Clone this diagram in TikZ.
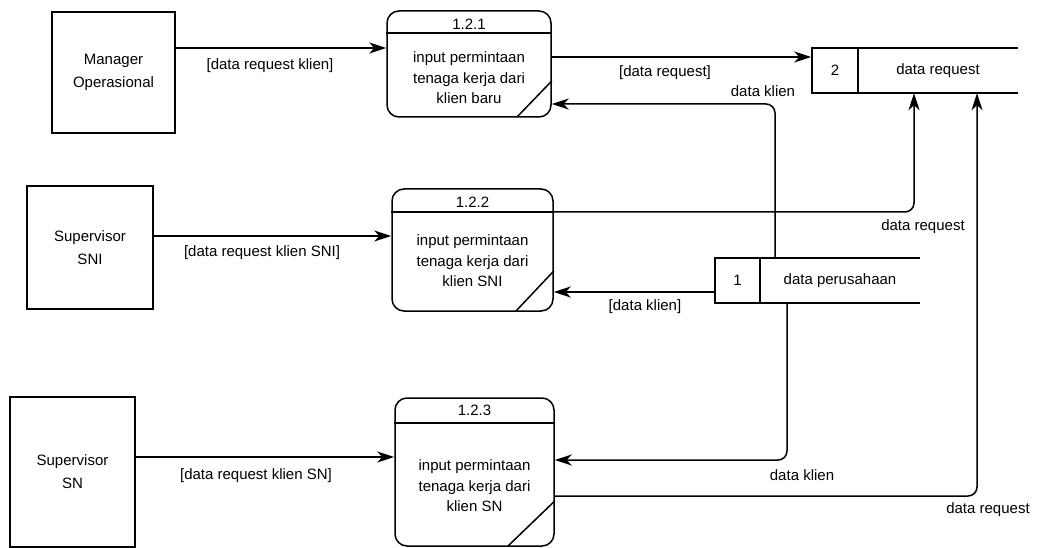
\documentclass[tikz,border=0pt]{standalone}
\usepackage{fontspec}
\setmainfont{Liberation Sans}
\usetikzlibrary{arrows.meta}
\begin{document}
\begin{tikzpicture}[x=1pt,y=-1pt,
  every node/.style={font=\fontsize{15}{20}\selectfont, inner sep=0pt},
  ent/.style={draw, line width=1.5pt, align=center, font=\fontsize{15}{23}\selectfont},
  proc/.style={draw, rounded corners=12pt, line width=1.5pt},
  ptext/.style={align=center, font=\fontsize{15}{20.5}\selectfont},
  ln/.style={line width=1.5pt},
  flow/.style={line width=1.5pt, rounded corners=9pt, -{Stealth[length=17pt,width=11pt,inset=5pt]}},
  lbl/.style={font=\fontsize{15}{18}\selectfont}
]
\useasboundingbox (0,0) rectangle (1041,548);

% external entities
\node[ent, minimum width=123pt, minimum height=121pt] (man) at (113.5,72.5) {Manager\\Operasional};
\node[ent, minimum width=126pt, minimum height=123pt] (sni) at (90,247.5) {Supervisor\\SNI};
\node[ent, minimum width=125pt, minimum height=150pt] (sn) at (72.5,472) {Supervisor\\SN};

% processes
\node[proc, minimum width=164pt, minimum height=106pt] (p1) at (469,64) {};
\node (p1id) at (469,24) {1.2.1};
\draw[ln] (p1.west |- 0,33) -- (p1.east |- 0,33);
\node[ptext] (p1t) at (469,78) {input permintaan\\tenaga kerja dari\\klien baru};
\draw[ln] (517,117) -- (p1.east |- 0,81);

\node[proc, minimum width=161pt, minimum height=122pt] (p2) at (472.5,250) {};
\node (p2id) at (472.5,202) {1.2.2};
\draw[ln] (p2.west |- 0,212) -- (p2.east |- 0,212);
\node[ptext] (p2t) at (472.5,261) {input permintaan\\tenaga kerja dari\\klien SNI};
\draw[ln] (516,311) -- (p2.east |- 0,271);

\node[proc, minimum width=159pt, minimum height=148pt] (p3) at (474.5,472) {};
\node (p3id) at (474.5,410) {1.2.3};
\draw[ln] (p3.west |- 0,423) -- (p3.east |- 0,423);
\node[ptext] (p3t) at (474.5,486) {input permintaan\\tenaga kerja dari\\klien SN};
\draw[ln] (508,546) -- (p3.east |- 0,501);

% data stores
\node[draw, line width=1.5pt, minimum width=46pt, minimum height=45pt] (s2n) at (835,70.5) {2};
\node[minimum width=160pt, minimum height=45pt] (s2) at (938,70.5) {data request};
\draw[ln] (s2.north west) -- (s2.north east);
\draw[ln] (s2.south west) -- (s2.south east);

\node[draw, line width=1.5pt, minimum width=45pt, minimum height=45pt] (s1n) at (737.5,280.5) {1};
\node[minimum width=160pt, minimum height=45pt] (s1) at (840,280.5) {data perusahaan};
\draw[ln] (s1.north west) -- (s1.north east);
\draw[ln] (s1.south west) -- (s1.south east);

% flows
\draw[flow] (man.east |- 0,48) -- (p1.west |- 0,48);
\node[lbl] (f1) at (270,66) {[data request klien]};

\draw[flow] (sni.east |- 0,236) -- (p2.west |- 0,236);
\node[lbl] (f2) at (262,253) {[data request klien SNI]};

\draw[flow] (sn.east |- 0,457) -- (p3.west |- 0,457);
\node[lbl] (f3) at (256,476) {[data request klien SN]};

\draw[flow] (p1.east |- 0,57) -- (s2n.west |- 0,57);
\node[lbl] (f4) at (665,73) {[data request]};

\draw[flow] (s1.north west -| 775,0) -- (775,104) -- (p1.east |- 0,104);
\node[lbl] (f5) at (763,91) {data klien};

\draw[flow] (p2.east |- 0,212) -- (914,212) -- (s2.south west -| 914,0);
\node[lbl] (f6) at (923,227) {data request};

\draw[flow] (s1n.west |- 0,292) -- (p2.east |- 0,292);
\node[lbl] (f7) at (645,307) {[data klien]};

\draw[flow] (s1.south west -| 787,0) -- (787,460) -- (p3.east |- 0,460);
\node[lbl] (f8) at (802,475) {data klien};

\draw[flow] (p3.east |- 0,496) -- (977,496) -- (s2.south west -| 977,0);
\node[lbl] (f9) at (988,510) {data request};
\end{tikzpicture}
\end{document}
